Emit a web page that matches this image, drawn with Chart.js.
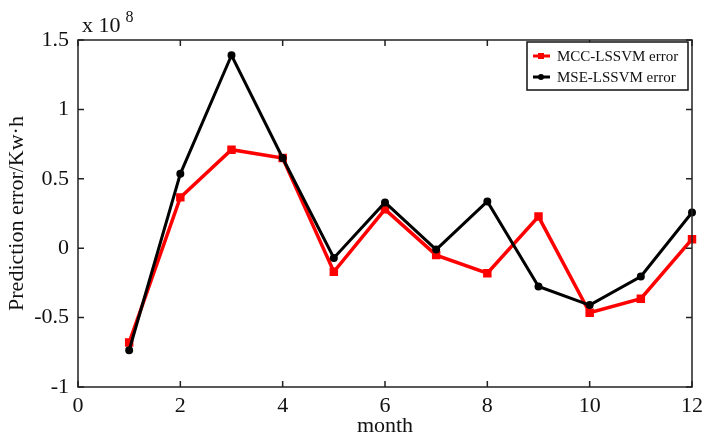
<!DOCTYPE html>
<html lang="en">
<head>
    <meta charset="UTF-8">
    <title>Prediction error</title>
    <script src="https://cdn.jsdelivr.net/npm/chart.js"></script>
    <style>
        html, body { margin: 0; padding: 0; background: #fff; }
        #wrap { width: 717px; height: 439px; }
    </style>
</head>
<body>
    <div id="wrap"><canvas id="errChart" width="717" height="439"></canvas></div>
    <script>
        // months 1..12, errors in units of 1e8 Kw·h
        const months = [1, 2, 3, 4, 5, 6, 7, 8, 9, 10, 11, 12]
        const mccError = [-0.68, 0.366, 0.71, 0.65, -0.17, 0.28, -0.05, -0.18, 0.228, -0.465, -0.364, 0.065]
        const mseError = [-0.735, 0.536, 1.39, 0.65, -0.07, 0.33, -0.01, 0.337, -0.276, -0.41, -0.204, 0.257]
        const xTicks = [0, 2, 4, 6, 8, 10, 12]
        const yTicks = [-1, -0.5, 0, 0.5, 1, 1.5]

        const serif = "'Liberation Serif', 'Times New Roman', serif"

        function toPoints(vals) {
            return months.map((m, i) => ({ x: m, y: vals[i] }))
        }

        // box around the plot + inward tick marks on all four sides, legend, exponent
        const boxPlugin = {
            id: 'boxPlugin',
            afterDraw(chart) {
                const ctx = chart.ctx
                const a = chart.chartArea
                const xs = chart.scales.x
                const ys = chart.scales.y
                ctx.save()
                ctx.strokeStyle = '#222'
                ctx.lineWidth = 1.5
                ctx.strokeRect(a.left, a.top, a.right - a.left, a.bottom - a.top)
                ctx.beginPath()
                xTicks.forEach(t => {
                    const px = xs.getPixelForValue(t)
                    ctx.moveTo(px, a.bottom); ctx.lineTo(px, a.bottom - 6)
                    ctx.moveTo(px, a.top); ctx.lineTo(px, a.top + 6)
                })
                yTicks.forEach(t => {
                    const py = ys.getPixelForValue(t)
                    ctx.moveTo(a.left, py); ctx.lineTo(a.left + 6, py)
                    ctx.moveTo(a.right, py); ctx.lineTo(a.right - 6, py)
                })
                ctx.stroke()

                // exponent label
                ctx.fillStyle = '#111'
                ctx.font = '22px ' + serif
                ctx.textBaseline = 'alphabetic'
                ctx.textAlign = 'left'
                ctx.fillText('x 10', a.left + 4, a.top - 8)
                const w = ctx.measureText('x 10').width
                ctx.font = '16px ' + serif
                ctx.fillText('8', a.left + 4 + w + 5, a.top - 18)

                // legend
                const lx = a.right - 165, ly = a.top + 2, lw = 161, lh = 48
                ctx.fillStyle = '#fff'
                ctx.fillRect(lx, ly, lw, lh)
                ctx.strokeStyle = '#111'
                ctx.lineWidth = 1.5
                ctx.strokeRect(lx, ly, lw, lh)
                ctx.font = '15px ' + serif
                ctx.textBaseline = 'middle'
                chart.data.datasets.slice().reverse().forEach((ds, i) => {
                    const y = ly + 14 + i * 21
                    ctx.strokeStyle = ds.borderColor
                    ctx.lineWidth = 3
                    ctx.beginPath()
                    ctx.moveTo(lx + 6, y); ctx.lineTo(lx + 23, y)
                    ctx.stroke()
                    ctx.fillStyle = ds.borderColor
                    if (ds.pointStyle === 'rect') {
                        ctx.fillRect(lx + 11, y - 3, 6, 6)
                    } else {
                        ctx.beginPath(); ctx.arc(lx + 14, y, 3, 0, Math.PI * 2); ctx.fill()
                    }
                    ctx.fillStyle = '#111'
                    ctx.fillText(ds.label, lx + 30, y + 1)
                })
                ctx.restore()
            }
        }

        const errChart = new Chart(document.getElementById('errChart'), {
            type: 'line',
            data: {
                datasets: [
                    {
                        label: 'MSE-LSSVM error',
                        data: toPoints(mseError),
                        borderColor: '#000',
                        backgroundColor: '#000',
                        borderWidth: 3,
                        pointStyle: 'circle',
                        pointRadius: 2.5,
                        clip: false,
                        order: 0
                    },
                    {
                        label: 'MCC-LSSVM error',
                        data: toPoints(mccError),
                        borderColor: '#ff0000',
                        backgroundColor: '#ff0000',
                        borderWidth: 3.5,
                        pointStyle: 'rect',
                        pointRadius: 3.5,
                        clip: false,
                        order: 1
                    }
                ]
            },
            options: {
                responsive: false,
                animation: false,
                layout: { padding: { top: 40, right: 25, left: 0, bottom: 0 } },
                plugins: {
                    legend: { display: false },
                    tooltip: { enabled: false }
                },
                scales: {
                    x: {
                        type: 'linear',
                        min: 0,
                        max: 12,
                        afterBuildTicks: s => { s.ticks = xTicks.map(v => ({ value: v })) },
                        afterFit: s => { s.height = 52; s.paddingLeft = 0; s.paddingRight = 0 },
                        grid: { display: false, drawTicks: false },
                        border: { display: false },
                        ticks: { color: '#111', font: { family: serif, size: 22 }, padding: 6, maxRotation: 0, callback: v => String(v) },
                        title: { display: true, text: 'month', color: '#111', font: { family: serif, size: 22 }, padding: { top: -6, bottom: 0 } }
                    },
                    y: {
                        min: -1,
                        max: 1.5,
                        afterBuildTicks: s => { s.ticks = yTicks.map(v => ({ value: v })) },
                        afterFit: s => { s.width = 78; s.paddingTop = 0; s.paddingBottom = 0 },
                        grid: { display: false, drawTicks: false },
                        border: { display: false },
                        ticks: { color: '#111', font: { family: serif, size: 22 }, padding: 9, callback: v => String(v) },
                        title: { display: true, text: 'Prediction error/Kw·h', color: '#111', font: { family: serif, size: 22 }, padding: { top: 4, bottom: 0 } }
                    }
                }
            },
            plugins: [boxPlugin]
        })
    </script>
</body>
</html>
